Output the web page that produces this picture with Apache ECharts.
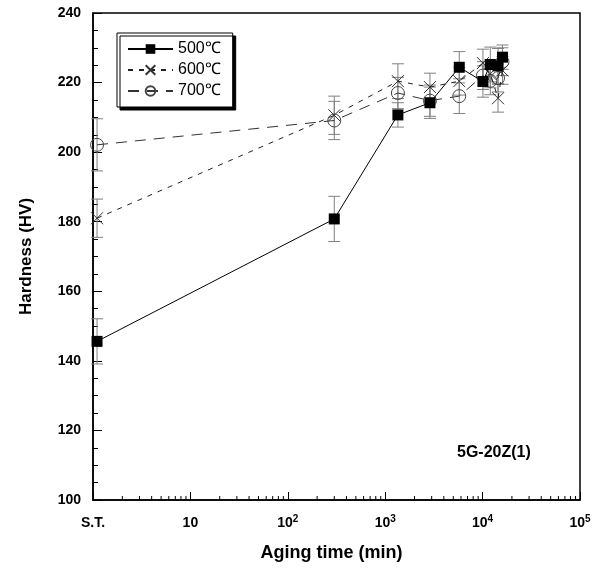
<!DOCTYPE html>
<html>
<head>
<meta charset="utf-8">
<script src="https://cdn.jsdelivr.net/npm/echarts@6/dist/echarts.min.js"></script>
<style>html,body{margin:0;padding:0;background:#fff;}#c{width:600px;height:574px;}</style>
</head>
<body>
<div id="c"></div>
<script>
// Aging time (min); S.T. (solution treated) drawn just right of 10^0
var times = [1.1, 300, 1350, 2880, 5760, 10080, 12000, 14400, 16000];
var h500 = [145.6, 180.8, 210.7, 214.2, 224.4, 220.3, 225.2, 224.8, 227.3];
var h600 = [181.0, 210.6, 220.4, 218.7, 220.4, 225.6, 222.5, 215.5, 223.5];
var h700 = [202.1, 209.1, 217.0, 214.8, 216.1, 222.0, 220.5, 221.3, 226.0];
var e500 = [6.5, 6.5, 3.5, 4.5, 4.5, 4.5, 5, 5, 3.5];
var e600 = [5.5, 5.5, 5, 4, 4, 4, 4, 4, 4];
var e700 = [7.5, 5.5, 4.5, 4.5, 5, 4, 4, 4, 4];
var seriesNames = ['500℃', '600℃', '700℃'];
var xTickValues = [1, 10, 100, 1000, 10000, 100000];
var xTickLabels = ['S.T.', '10', '10^2', '10^3', '10^4', '10^5'];
var minorX = [];
[1, 10, 100, 1000, 10000].forEach(function (d) {
  [2, 3, 4, 5, 6, 7, 8, 9].forEach(function (m) { minorX.push([d * m]); });
});
var sampleLabel = '5G-20Z(1)';

var FONT = 'Liberation Sans, Arial, sans-serif';

function pts(h) { return times.map(function (t, i) { return [t, h[i]]; }); }
function errs(h, e) { return times.map(function (t, i) { return [t, h[i] - e[i], h[i] + e[i]]; }); }

function errRender(params, api) {
  var x = api.value(0), lo = api.value(1), hi = api.value(2);
  var a = api.coord([x, lo]), b = api.coord([x, hi]);
  var w = 6;
  var st = { stroke: '#808080', lineWidth: 1 };
  return {
    type: 'group',
    children: [
      { type: 'line', shape: { x1: a[0], y1: a[1], x2: b[0], y2: b[1] }, style: st },
      { type: 'line', shape: { x1: a[0] - w, y1: a[1], x2: a[0] + w, y2: a[1] }, style: st },
      { type: 'line', shape: { x1: b[0] - w, y1: b[1], x2: b[0] + w, y2: b[1] }, style: st }
    ]
  };
}

function minorRender(params, api) {
  var p = api.coord([api.value(0), 100]);
  return { type: 'line', shape: { x1: p[0], y1: p[1], x2: p[0], y2: p[1] - 4 }, style: { stroke: '#000', lineWidth: 1 } };
}

var chart = echarts.init(document.getElementById('c'), null, { renderer: 'canvas' });
chart.setOption({
  animation: false,
  backgroundColor: '#fff',
  title: {
    text: sampleLabel, left: 457, top: 445, padding: 0,
    textStyle: { fontSize: 16, fontWeight: 'bold', fontFamily: FONT, color: '#000' }
  },
  legend: {
    data: seriesNames,
    orient: 'vertical',
    left: 117, top: 33,
    backgroundColor: '#fff',
    borderColor: '#000', borderWidth: 1,
    padding: [8, 12, 8, 10],
    itemWidth: 45, itemHeight: 12, itemGap: 5, itemTextGap: 5,
    shadowColor: '#000', shadowOffsetX: 3, shadowOffsetY: 3, shadowBlur: 0,
    textStyle: { fontSize: 16, fontFamily: FONT, color: '#000' }
  },
  grid: { left: 93, right: 20, top: 13, bottom: 74, show: true, borderColor: '#000', borderWidth: 1.5 },
  xAxis: {
    type: 'log', logBase: 10, min: 1, max: 100000,
    name: 'Aging time (min)', nameLocation: 'middle', nameGap: 44,
    nameTextStyle: { fontSize: 18, fontWeight: 'bold', fontFamily: FONT, color: '#000', padding: [0, 10, 0, 0] },
    axisLine: { show: true, lineStyle: { color: '#000', width: 1.5 } },
    axisTick: { show: true, inside: true, length: 8, lineStyle: { color: '#000' } },
    splitLine: { show: false },
    axisLabel: {
      margin: 14,
      formatter: function (v) {
        var i = xTickValues.indexOf(Math.round(v));
        if (i < 0) return '';
        var s = xTickLabels[i];
        if (s.indexOf('^') >= 0) {
          var parts = s.split('^');
          return '{b|' + parts[0] + '}{s|' + parts[1] + '}';
        }
        return '{b|' + s + '}';
      },
      rich: {
        b: { fontSize: 14, fontWeight: 'bold', fontFamily: FONT, color: '#000', lineHeight: 18 },
        s: { fontSize: 10, fontWeight: 'bold', fontFamily: FONT, color: '#000', lineHeight: 10, verticalAlign: 'top' }
      }
    }
  },
  yAxis: {
    type: 'value', min: 100, max: 240, interval: 20,
    name: 'Hardness (HV)', nameLocation: 'middle', nameGap: 58,
    nameTextStyle: { fontSize: 17, fontWeight: 'bold', fontFamily: FONT, color: '#000' },
    axisLine: { show: true, lineStyle: { color: '#000', width: 1.5 } },
    axisTick: { show: true, inside: true, length: 9, lineStyle: { color: '#000' } },
    minorTick: { show: true, splitNumber: 4, length: 5, lineStyle: { color: '#000' } },
    splitLine: { show: false },
    axisLabel: { margin: 12, fontSize: 14, fontWeight: 'bold', fontFamily: FONT, color: '#000' }
  },
  series: [
    { type: 'custom', name: 'minor', silent: true, renderItem: minorRender, data: minorX, encode: { x: 0 }, z: 1 },
    { type: 'custom', name: 'err700', silent: true, renderItem: errRender, data: errs(h700, e700), encode: { x: 0, y: [1, 2] }, z: 2 },
    { type: 'custom', name: 'err600', silent: true, renderItem: errRender, data: errs(h600, e600), encode: { x: 0, y: [1, 2] }, z: 2 },
    { type: 'custom', name: 'err500', silent: true, renderItem: errRender, data: errs(h500, e500), encode: { x: 0, y: [1, 2] }, z: 2 },
    {
      type: 'line', name: seriesNames[2], data: pts(h700), z: 3,
      symbol: 'circle', symbolSize: 13,
      lineStyle: { color: '#333', width: 1, type: [11, 8] },
      itemStyle: { color: 'rgba(0,0,0,0)', borderColor: '#444', borderWidth: 1 }
    },
    {
      type: 'line', name: seriesNames[1], data: pts(h600), z: 4,
      symbol: 'path://M0,0L10,10M10,0L0,10', symbolSize: 12,
      lineStyle: { color: '#222', width: 1, type: [5, 6] },
      itemStyle: { color: 'rgba(0,0,0,0)', borderColor: '#333', borderWidth: 1 }
    },
    {
      type: 'line', name: seriesNames[0], data: pts(h500), z: 5,
      symbol: 'rect', symbolSize: 11,
      lineStyle: { color: '#000', width: 1 },
      itemStyle: { color: '#000', borderColor: '#000', borderWidth: 0 }
    }
  ]
});
</script>
</body>
</html>
